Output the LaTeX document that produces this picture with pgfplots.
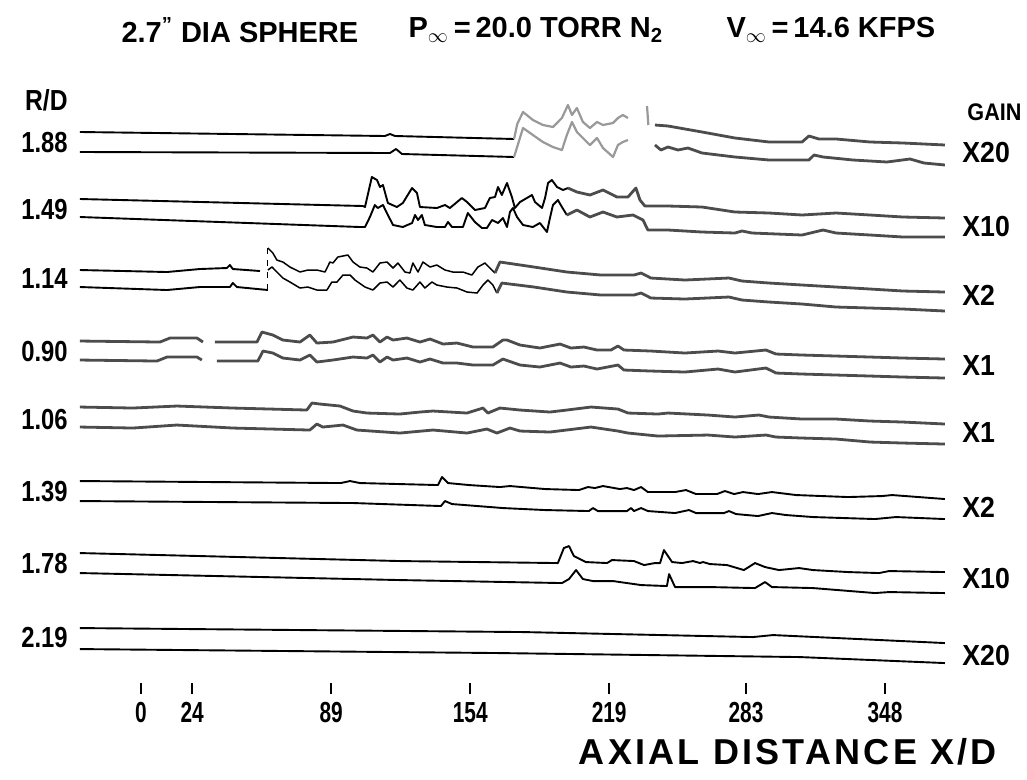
\documentclass[border=0pt]{standalone}
\usepackage{fontspec}
\setmainfont{Liberation Sans}
\newfontfamily\spaced[LetterSpace=9]{Liberation Sans}
\usepackage{graphicx}
\usepackage{pgfplots}
\pgfplotsset{compat=1.18}
\newcommand\lbl{\fontsize{14.5}{16}\selectfont\bfseries}
\newcommand\cnd[2]{\scalebox{#1}[1]{#2}}
\tikzset{
  crisp/.style={black, line width=0.95pt, mark=none, line join=round},
  thin/.style={black, line width=0.75pt, mark=none, line join=round},
  blur/.style={black!70, line width=1.4pt, mark=none, line join=round},
  faint/.style={black!40, line width=1.1pt, mark=none, line join=round},
}
\begin{document}
\begin{tikzpicture}
\begin{axis}[
  x=1.069pt, y=0.5pt,
  xmin=-28.5, xmax=376, ymin=91, ymax=690,
  axis x line=bottom, axis y line=none,
  x axis line style={draw=none},
  xtick={0,24,89,154,219,283,348},
  xticklabels={\cnd{0.72}{0},\cnd{0.72}{24},\cnd{0.72}{89},\cnd{0.72}{154},\cnd{0.72}{219},\cnd{0.72}{283},\cnd{0.72}{348}},
  xtick align=center,
  major tick length=5.5pt,
  xtick style={black, line width=1.2pt},
  xticklabel style={font=\fontsize{14.5}{16}\selectfont\bfseries, anchor=base, yshift=-14.5pt},
  ytick=\empty,
  clip=false,
]
% bounding frame (invisible)
\path (axis cs:-65.9,0) rectangle (axis cs:414.4,779);

% ---- R/D 1.88, gain X20 ----
\addplot[crisp] coordinates {(-28.5,647) (114.1,643) (116.5,645) (118.8,643) (174.5,640)};
\addplot[crisp] coordinates {(-28.5,627) (116.5,626) (119.3,630) (122.1,625) (174.5,622)};
\addplot[faint] coordinates {(174.5,640) (176.0,655) (178.7,667) (183.3,659) (188.0,654) (192.7,652) (196.9,661) (199.7,674) (201.6,664) (203.9,671) (206.7,657) (210.0,651) (213.3,657) (216.1,654) (220.8,656) (223.1,661) (225.4,664) (227.8,661)};
\addplot[faint] coordinates {(174.5,622) (178.7,651) (183.3,644) (188.0,637) (192.7,632) (196.9,629) (199.2,644) (201.6,657) (203.9,647) (206.7,641) (210.0,634) (213.3,641) (216.1,631) (220.8,622) (223.1,634) (225.4,637) (227.8,639)};
\addplot[faint] coordinates {(236.7,673) (237.3,654)};
\addplot[blur] coordinates {(240.4,654) (246.5,653) (262.4,647) (277.8,641) (293.7,637) (309.2,637) (312.4,643) (317.1,640) (325.1,640) (341.0,637) (356.4,636) (376.0,634)};
\addplot[blur] coordinates {(240.4,634) (243.2,629) (246.5,632) (251.2,629) (255.8,631) (262.4,626) (277.8,622) (293.7,619) (312.4,619) (314.8,624) (319.0,622) (333.0,619) (348.9,617) (359.7,620) (366.2,616) (376.0,614)};

% ---- R/D 1.49, gain X10 ----
\addplot[crisp] coordinates {(-28.5,580) (103.8,573) (104.8,572) (108.0,602) (110.4,599) (111.8,592) (113.2,594) (115.5,576) (119.7,572) (122.5,576) (126.8,591) (129.1,586) (130.5,572) (138.4,571) (142.2,574) (144.5,571) (150.1,581) (152.5,577) (156.2,569) (160.9,571) (163.2,581) (165.6,582) (167.0,592) (168.8,584) (171.2,596) (173.5,582) (174.9,571) (177.3,577) (180.5,581) (182.9,584) (184.3,577) (187.6,571) (189.0,581) (190.4,596) (192.2,599) (194.6,592) (197.4,589) (199.7,591)};
\addplot[blur] coordinates {(199.7,591) (203.9,587) (210.0,584) (216.1,589) (222.6,582) (227.8,582) (231.5,591) (233.4,579) (235.7,573) (246.5,573) (262.4,572) (277.8,567) (293.7,566) (309.2,564) (325.1,566) (341.0,564) (356.4,562) (376.0,561)};
\addplot[crisp] coordinates {(-28.5,562) (102.4,552) (104.8,552) (107.1,562) (109.4,574) (110.8,571) (113.2,574) (115.5,564) (117.9,554) (122.5,552) (126.8,556) (128.2,564) (129.6,559) (131.4,564) (132.8,554) (138.4,552) (142.2,552) (143.6,557) (145.5,552) (150.6,552) (152.9,566) (156.2,557) (159.5,551) (161.8,551) (164.2,559) (167.0,556) (169.3,561) (171.2,552) (172.6,567) (174.0,571) (175.9,562) (178.7,554) (183.3,552) (186.6,556) (189.9,547) (191.3,561) (192.7,574) (195.0,579) (196.9,572) (199.2,564)};
\addplot[blur] coordinates {(199.2,564) (203.9,569) (210.0,562) (216.1,567) (222.6,562) (230.1,564) (234.8,559) (237.1,549) (246.5,549) (262.4,547) (277.8,546) (281.1,548) (285.8,546) (309.2,544) (319.0,549) (325.1,546) (341.0,544) (356.4,542) (376.0,542)};

% ---- R/D 1.14, gain X2 ----
\addplot[crisp] coordinates {(-28.5,509) (12.2,507) (27.6,510) (40.2,511) (41.6,514) (43.0,510) (55.7,508)};
\addplot[thin] coordinates {(59.4,531) (61.7,526) (63.6,519) (66.4,517) (69.7,512) (74.4,507) (78.1,509) (82.3,509) (86.1,507) (88.4,517) (89.8,516) (92.1,522) (96.8,524) (99.2,517) (102.4,512) (105.7,511) (108.5,507) (111.8,516) (115.1,517) (117.9,511) (120.2,516) (123.5,507) (125.8,506) (127.2,516) (129.6,507) (131.9,517) (135.2,512) (138.4,514) (142.2,509) (145.9,507) (150.6,507) (154.8,504) (157.6,512) (160.9,516) (163.2,511) (165.6,506)};
\addplot[blur] coordinates {(165.6,506) (167.9,517) (183.8,512) (199.2,507) (215.1,504) (230.6,504) (233.9,506) (238.5,501) (254.4,499) (275.0,501) (281.1,498) (293.7,496) (309.2,494) (325.1,492) (341.0,490) (356.4,488) (376.0,487)};
\addplot[crisp] coordinates {(-28.5,492) (12.2,489) (27.6,492) (41.6,492) (43.0,496) (44.9,492) (59.4,489)};
\addplot[thin, dashed] coordinates {(59.2,531) (59.2,489)};
\addplot[thin] coordinates {(59.4,509) (61.3,512) (63.6,507) (66.4,501) (69.7,497) (74.4,491) (78.1,492) (82.3,489) (87.0,489) (89.3,497) (91.7,497) (94.5,504) (97.8,504) (100.1,499) (104.8,492) (108.5,489) (111.8,496) (115.1,497) (117.9,492) (121.1,499) (124.4,491) (127.2,489) (130.5,497) (132.8,491) (136.1,497) (138.4,494) (143.1,492) (147.8,491) (152.5,487) (157.2,486) (160.0,494) (162.3,499) (164.6,494) (166.5,486)};
\addplot[blur] coordinates {(166.5,486) (168.8,496) (183.8,492) (199.2,487) (215.1,484) (230.6,484) (233.9,486) (238.5,481) (254.4,480) (275.0,482) (281.1,479) (293.7,477) (309.2,475) (325.1,472) (341.0,471) (356.4,470) (376.0,468)};

% ---- R/D 0.90, gain X1 ----
\addplot[blur] coordinates {(-28.5,438) (8.9,437) (13.6,441) (26.2,441) (29.0,437)};
\addplot[blur] coordinates {(34.6,437) (54.3,437) (56.6,447) (61.7,444) (66.4,439) (74.4,437) (79.0,444) (82.3,436) (89.8,437) (99.2,442) (105.7,441) (108.5,444) (111.8,437) (115.1,442) (117.9,439) (124.4,441) (130.5,437) (135.2,440) (141.3,435) (147.8,436) (155.3,432) (164.6,432) (169.3,439) (171.2,439) (177.3,434) (186.6,431) (196.0,435) (201.1,431) (207.2,432) (213.3,429) (219.8,429) (223.1,433) (225.9,429) (238.5,428) (254.4,426) (269.9,428) (277.8,426) (292.3,429) (297.0,425) (309.2,424) (325.1,423) (341.0,422) (356.4,421) (376.0,420)};
\addplot[blur] coordinates {(-28.5,419) (7.5,418) (12.2,422) (26.2,422) (28.5,419)};
\addplot[blur] coordinates {(35.5,418) (54.7,418) (57.1,428) (61.7,426) (66.4,421) (74.4,419) (79.0,424) (82.3,417) (89.8,419) (99.2,422) (105.7,421) (108.5,424) (111.8,417) (115.1,422) (117.9,419) (124.4,421) (130.5,417) (135.2,420) (141.3,416) (147.8,416) (155.3,414) (164.6,414) (169.3,420) (177.3,414) (186.6,412) (196.0,416) (201.1,412) (207.2,413) (213.3,410) (223.1,414) (225.9,409) (238.5,408) (254.4,407) (269.9,410) (277.8,407) (292.3,411) (297.0,406) (309.2,405) (325.1,404) (341.0,403) (356.4,402) (376.0,401)};

% ---- R/D 1.06, gain X1 ----
\addplot[blur] coordinates {(-28.5,372) (-3.7,371) (16.8,373) (43.0,371) (77.6,369) (80.0,376) (83.7,375) (93.1,373) (99.2,368) (105.7,366) (121.1,365) (130.5,367) (136.6,368) (152.5,366) (160.0,371) (162.3,366) (167.9,371) (177.3,369) (191.3,367) (199.2,369) (210.5,372) (223.1,370) (227.8,366) (241.8,365) (246.5,366) (265.2,364) (277.8,362) (289.0,364) (293.7,362) (309.2,360) (325.1,360) (341.0,358) (356.4,357) (376.0,355)};
\addplot[blur] coordinates {(-28.5,352) (-3.7,351) (16.8,354) (43.0,351) (79.0,349) (82.3,355) (85.1,352) (94.5,354) (101.0,349) (121.1,346) (136.6,349) (152.5,346) (161.8,350) (166.5,346) (172.6,351) (177.3,348) (191.3,347) (210.5,352) (223.1,348) (227.8,346) (241.8,343) (265.2,344) (277.8,342) (292.3,344) (297.0,342) (309.2,341) (325.1,340) (341.0,337) (356.4,336) (376.0,335)};

% ---- R/D 1.39, gain X2 ----
\addplot[crisp] coordinates {(-28.5,298) (93.5,296) (97.8,298) (102.4,296) (138.9,294) (140.8,302) (143.6,296) (153.4,294) (167.9,292) (172.6,293) (189.0,290) (204.9,289) (209.1,292) (212.3,291) (216.1,293) (224.0,290) (227.3,291) (230.6,289) (233.9,292) (237.1,287) (249.8,287) (254.9,289) (259.6,285) (269.4,285) (273.1,288) (277.4,285) (281.6,287) (288.6,285) (295.1,287) (306.4,284) (330.7,282) (346.6,283) (351.3,284) (376.0,280)};
\addplot[crisp] coordinates {(-28.5,278) (99.6,276) (140.3,273) (142.2,278) (145.5,275) (169.3,271) (189.0,269) (209.5,268) (211.4,271) (213.7,268) (227.3,268) (229.2,271) (230.6,268) (233.9,271) (237.1,268) (249.8,266) (256.3,269) (259.6,266) (272.7,266) (275.0,268) (278.3,265) (288.6,263) (295.1,266) (301.7,264) (314.3,262) (343.3,260) (353.1,262) (376.0,260)};

% ---- R/D 1.78, gain X10 ----
\addplot[crisp] coordinates {(-28.5,226) (121.1,218) (195.0,216) (197.8,231) (200.2,233) (202.5,223) (208.1,217) (218.0,216) (220.3,219) (230.6,218) (235.3,214) (240.4,216) (242.8,216) (244.6,229) (248.4,217) (253.0,216) (258.2,218) (261.5,216) (262.9,217) (266.1,215) (274.1,214) (282.0,209) (287.2,216) (291.9,212) (298.4,209) (307.8,211) (314.3,209) (330.7,207) (345.2,206) (349.9,208) (376.0,207)};
\addplot[crisp] coordinates {(-28.5,206) (121.1,199) (196.9,196) (200.2,200) (203.5,209) (206.7,200) (211.4,198) (220.8,198) (224.0,197) (233.9,194) (246.0,193) (247.0,205) (249.8,192) (266.1,192) (287.2,191) (291.9,197) (295.1,192) (314.3,191) (343.3,186) (349.9,187) (376.0,186)};

% ---- R/D 2.19, gain X20 ----
\addplot[crisp] coordinates {(-28.5,151) (179.1,147) (286.2,142) (295.6,144) (376.0,136)};
\addplot[crisp] coordinates {(-28.5,130) (167.9,126) (308.2,122) (376.0,116)};

% ---- labels ----
\node[font=\lbl] at (axis cs:46.3,749) {2.7\textsuperscript{"} DIA SPHERE};
\node[font=\lbl] at (axis cs:184.7,749) {P$_{\infty}$\,=\,20.0 TORR N\textsubscript{2}};
\node[font=\lbl] at (axis cs:322.7,749) {V$_{\infty}$\,=\,14.6 KFPS};
\node[font=\lbl, anchor=east, inner sep=0pt] at (axis cs:-34.1,679) {\cnd{0.85}{R/D}};
\node[font=\fontsize{12}{14}\selectfont\bfseries, anchor=east, inner sep=0pt] at (axis cs:412.0,667) {\cnd{0.9}{GAIN}};
\node[font=\lbl, anchor=east, inner sep=0pt] at (axis cs:-34.1,636) {\cnd{0.82}{1.88}};
\node[font=\lbl, anchor=east, inner sep=0pt] at (axis cs:-34.1,569) {\cnd{0.82}{1.49}};
\node[font=\lbl, anchor=east, inner sep=0pt] at (axis cs:-34.1,500) {\cnd{0.82}{1.14}};
\node[font=\lbl, anchor=east, inner sep=0pt] at (axis cs:-34.1,428) {\cnd{0.82}{0.90}};
\node[font=\lbl, anchor=east, inner sep=0pt] at (axis cs:-34.1,360) {\cnd{0.82}{1.06}};
\node[font=\lbl, anchor=east, inner sep=0pt] at (axis cs:-34.1,288) {\cnd{0.82}{1.39}};
\node[font=\lbl, anchor=east, inner sep=0pt] at (axis cs:-34.1,216) {\cnd{0.82}{1.78}};
\node[font=\lbl, anchor=east, inner sep=0pt] at (axis cs:-34.1,142) {\cnd{0.82}{2.19}};
\node[font=\lbl, anchor=west, inner sep=0pt] at (axis cs:384.0,626) {\cnd{0.92}{X20}};
\node[font=\lbl, anchor=west, inner sep=0pt] at (axis cs:384.0,552) {\cnd{0.92}{X10}};
\node[font=\lbl, anchor=west, inner sep=0pt] at (axis cs:384.0,484) {\cnd{0.92}{X2}};
\node[font=\lbl, anchor=west, inner sep=0pt] at (axis cs:384.0,414) {\cnd{0.92}{X1}};
\node[font=\lbl, anchor=west, inner sep=0pt] at (axis cs:384.0,347) {\cnd{0.92}{X1}};
\node[font=\lbl, anchor=west, inner sep=0pt] at (axis cs:384.0,272) {\cnd{0.92}{X2}};
\node[font=\lbl, anchor=west, inner sep=0pt] at (axis cs:384.0,201) {\cnd{0.92}{X10}};
\node[font=\lbl, anchor=west, inner sep=0pt] at (axis cs:384.0,124) {\cnd{0.92}{X20}};
\node[font=\fontsize{18}{20}\selectfont\bfseries, inner sep=0pt] at (axis cs:302.6,27) {\spaced AXIAL DISTANCE X/D};
\end{axis}
\end{tikzpicture}
\end{document}
